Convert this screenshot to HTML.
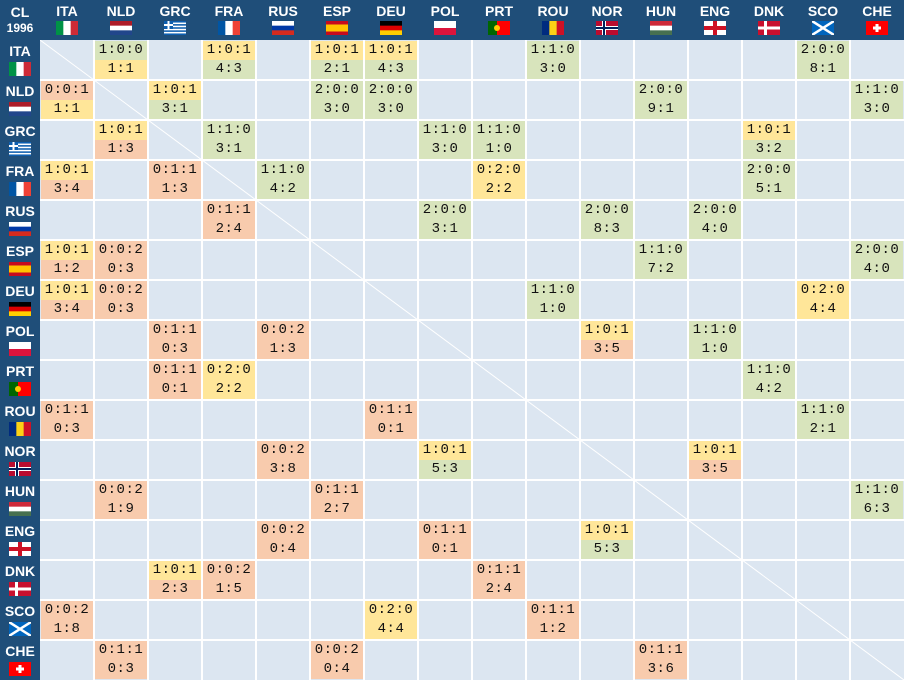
<!DOCTYPE html>
<html><head><meta charset="utf-8"><style>
body{margin:0;width:904px;height:680px;overflow:hidden;background:#dce6f1;font-family:"Liberation Sans",sans-serif}
#w{position:relative;width:904px;height:680px;background:#dce6f1}
.h{position:absolute;background:#1f4e79;color:#fff;font-weight:bold;font-size:13px;text-align:center}
.c{position:absolute;font-family:"Liberation Mono",monospace;font-size:14px;color:#111;text-align:center;line-height:19px;letter-spacing:0.5px}
.lab{position:absolute;color:#fff;font-weight:bold;font-size:14px;text-align:center;width:54px}
svg.f{position:absolute}
</style></head><body><div id="w">
<div class="h" style="left:0;top:0;width:904px;height:40px"></div>
<div class="h" style="left:0;top:0;width:40px;height:680px"></div>
<svg style="position:absolute;left:40px;top:40px" width="864" height="640"><line x1="0" y1="0" x2="864" y2="640" stroke="#fff" stroke-width="1"/></svg>
</div>
<script>
const T=["ITA","NLD","GRC","FRA","RUS","ESP","DEU","POL","PRT","ROU","NOR","HUN","ENG","DNK","SCO","CHE"];
function flag(t){
 const W=22,H=14;let s='';
 const v=(a)=>a.map((c,i)=>`<rect x="${i*W/a.length}" y="0" width="${W/a.length+0.3}" height="${H}" fill="${c}"/>`).join('');
 const h=(a)=>a.map((c,i)=>`<rect x="0" y="${i*H/a.length}" width="${W}" height="${H/a.length+0.3}" fill="${c}"/>`).join('');
 switch(t){
 case"ITA":s=v(["#009246","#fff","#ce2b37"]);break;
 case"NLD":s=h(["#ae1c28","#fff","#21468b"]);break;
 case"GRC":s=h(["#0d5eaf","#fff","#0d5eaf","#fff","#0d5eaf","#fff","#0d5eaf","#fff","#0d5eaf"])+`<rect width="9" height="8" fill="#0d5eaf"/><rect x="3.5" width="2" height="8" fill="#fff"/><rect y="3" width="9" height="2" fill="#fff"/>`;break;
 case"FRA":s=v(["#0055a4","#fff","#ef4135"]);break;
 case"RUS":s=h(["#fff","#0039a6","#d52b1e"]);break;
 case"ESP":s=`<rect width="22" height="14" fill="#c60b1e"/><rect y="3.5" width="22" height="7" fill="#ffc400"/>`;break;
 case"DEU":s=h(["#000","#dd0000","#ffce00"]);break;
 case"POL":s=h(["#fff","#dc143c"]);break;
 case"PRT":s=`<rect width="22" height="14" fill="#ff0000"/><rect width="9" height="14" fill="#006600"/><circle cx="9" cy="7" r="3" fill="#ffcc00"/>`;break;
 case"ROU":s=v(["#002b7f","#fcd116","#ce1126"]);break;
 case"NOR":s=`<rect width="22" height="14" fill="#ba0c2f"/><rect x="6" width="4" height="14" fill="#fff"/><rect y="5" width="22" height="4" fill="#fff"/><rect x="7" width="2" height="14" fill="#00205b"/><rect y="6" width="22" height="2" fill="#00205b"/>`;break;
 case"HUN":s=h(["#ce2939","#fff","#477050"]);break;
 case"ENG":s=`<rect width="22" height="14" fill="#fff"/><rect x="9" width="4" height="14" fill="#ce1124"/><rect y="5" width="22" height="4" fill="#ce1124"/>`;break;
 case"DNK":s=`<rect width="22" height="14" fill="#c8102e"/><rect x="6" width="3" height="14" fill="#fff"/><rect y="5.5" width="22" height="3" fill="#fff"/>`;break;
 case"SCO":s=`<rect width="22" height="14" fill="#0065bd"/><path d="M0 0L22 14M22 0L0 14" stroke="#fff" stroke-width="2.5"/>`;break;
 case"CHE":s=`<rect width="22" height="14" fill="#ff0000"/><rect x="9.5" y="3" width="3" height="8" fill="#fff"/><rect x="7" y="5.5" width="8" height="3" fill="#fff"/>`;break;
 }
 return `<svg class="f" width="22" height="14" viewBox="0 0 22 14">${s}</svg>`;
}
const D={
ITA:{NLD:"1:0:0 1:1",FRA:"1:0:1 4:3",ESP:"1:0:1 2:1",DEU:"1:0:1 4:3",ROU:"1:1:0 3:0",SCO:"2:0:0 8:1"},
NLD:{ITA:"0:0:1 1:1",GRC:"1:0:1 3:1",ESP:"2:0:0 3:0",DEU:"2:0:0 3:0",HUN:"2:0:0 9:1",CHE:"1:1:0 3:0"},
GRC:{NLD:"1:0:1 1:3",FRA:"1:1:0 3:1",POL:"1:1:0 3:0",PRT:"1:1:0 1:0",DNK:"1:0:1 3:2"},
FRA:{ITA:"1:0:1 3:4",GRC:"0:1:1 1:3",RUS:"1:1:0 4:2",PRT:"0:2:0 2:2",DNK:"2:0:0 5:1"},
RUS:{FRA:"0:1:1 2:4",POL:"2:0:0 3:1",NOR:"2:0:0 8:3",ENG:"2:0:0 4:0"},
ESP:{ITA:"1:0:1 1:2",NLD:"0:0:2 0:3",HUN:"1:1:0 7:2",CHE:"2:0:0 4:0"},
DEU:{ITA:"1:0:1 3:4",NLD:"0:0:2 0:3",ROU:"1:1:0 1:0",SCO:"0:2:0 4:4"},
POL:{GRC:"0:1:1 0:3",RUS:"0:0:2 1:3",NOR:"1:0:1 3:5",ENG:"1:1:0 1:0"},
PRT:{GRC:"0:1:1 0:1",FRA:"0:2:0 2:2",DNK:"1:1:0 4:2"},
ROU:{ITA:"0:1:1 0:3",DEU:"0:1:1 0:1",SCO:"1:1:0 2:1"},
NOR:{RUS:"0:0:2 3:8",POL:"1:0:1 5:3",ENG:"1:0:1 3:5"},
HUN:{NLD:"0:0:2 1:9",ESP:"0:1:1 2:7",CHE:"1:1:0 6:3"},
ENG:{RUS:"0:0:2 0:4",POL:"0:1:1 0:1",NOR:"1:0:1 5:3"},
DNK:{GRC:"1:0:1 2:3",FRA:"0:0:2 1:5",PRT:"0:1:1 2:4"},
SCO:{ITA:"0:0:2 1:8",DEU:"0:2:0 4:4",ROU:"0:1:1 1:2"},
CHE:{NLD:"0:1:1 0:3",ESP:"0:0:2 0:4",HUN:"0:1:1 3:6"}};
const G="#d8e4bc",Y="#ffe699",O="#f8cbad";
const col=(a,b)=>a>b?G:a<b?O:Y;
let html='';
for(let i=1;i<16;i++){html+=`<div style="position:absolute;left:${40+i*54-1}px;top:40px;width:2px;height:640px;background:#fff"></div>`;
html+=`<div style="position:absolute;left:40px;top:${40+i*40-1}px;width:864px;height:2px;background:#fff"></div>`;}
html+=`<div class="lab" style="left:-7px;top:4px">CL</div><div class="lab" style="left:-7px;top:21px;font-size:12px">1996</div>`;
T.forEach((t,i)=>{
 const x=40+i*54;
 html+=`<div class="lab" style="left:${x}px;top:3px">${t}</div><div style="position:absolute;left:${x+16}px;top:21px">${flag(t)}</div>`;
 const y=40+i*40;
 html+=`<div class="lab" style="left:-7px;top:${y+3}px">${t}</div><div style="position:absolute;left:9px;top:${y+22}px">${flag(t)}</div>`;
});
T.forEach((r,i)=>{const row=D[r];for(const c in row){const j=T.indexOf(c);const [a,b]=row[c].split(' ');
 const p=a.split(':').map(Number),q=b.split(':').map(Number);
 const x=40+j*54+1,y=40+i*40+1;
 html+=`<div class="c" style="left:${x}px;top:${y}px;width:52px;height:19px;background:${col(p[0],p[2])}">${a}</div>`;
 html+=`<div class="c" style="left:${x}px;top:${y+19}px;width:52px;height:19px;background:${col(q[0],q[1])}">${b}</div>`;
}});
document.getElementById('w').insertAdjacentHTML('beforeend',html);
</script></body></html>
